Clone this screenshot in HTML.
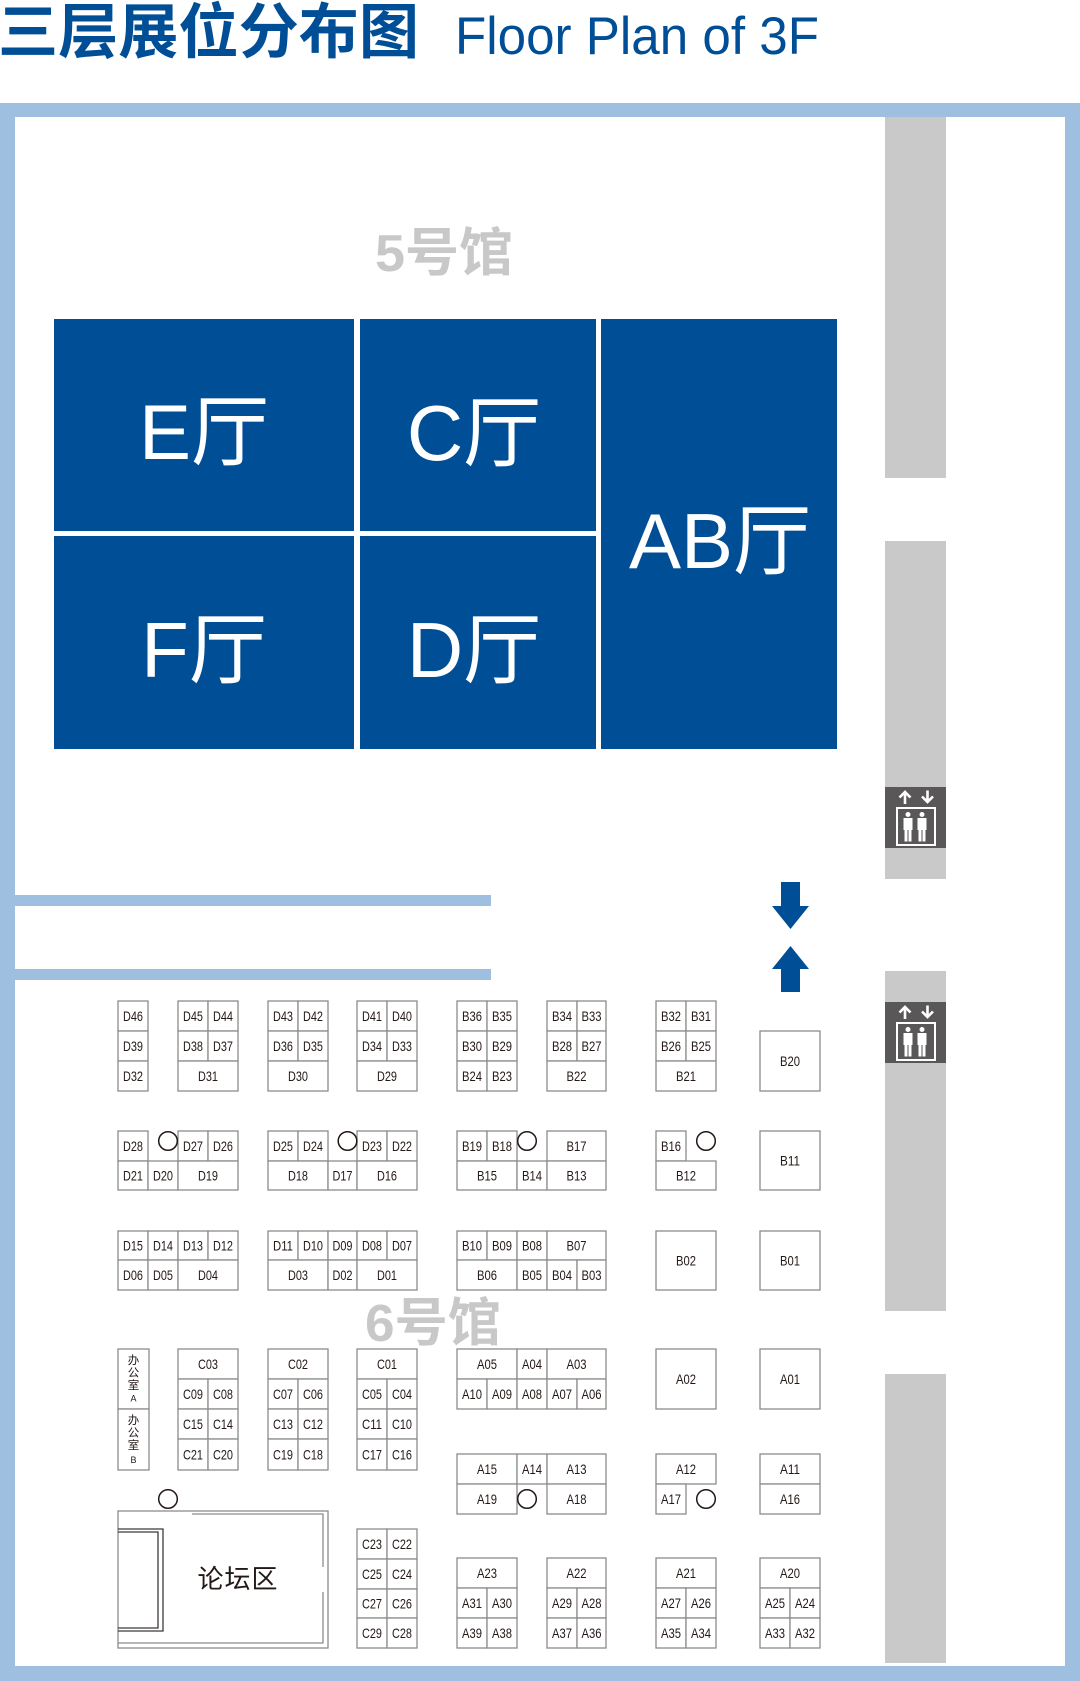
<!DOCTYPE html>
<html><head><meta charset="utf-8">
<style>
html,body{margin:0;padding:0;background:#fff}
svg{display:block}
.r rect{fill:#fff;stroke:#8c8c8c;stroke-width:1.3}
.t text{font-family:"Liberation Sans",sans-serif;font-size:14px;fill:#231815;text-anchor:middle;dominant-baseline:central}
.c circle{fill:none;stroke:#231815;stroke-width:1.5}
.h text{font-family:"Liberation Sans","Noto Sans CJK SC",sans-serif;font-size:78px;fill:#fff;text-anchor:middle}
</style></head>
<body>
<svg width="1080" height="1681" viewBox="0 0 1080 1681" xmlns="http://www.w3.org/2000/svg">
<rect x="0" y="0" width="1080" height="1681" fill="#fff"/>
<!-- Title -->
<text x="-2" y="53" font-family="Liberation Sans, Noto Sans CJK SC, sans-serif" font-weight="bold" font-size="60" fill="#004f96" textLength="421" lengthAdjust="spacingAndGlyphs">三层展位分布图</text>
<text x="455" y="54" font-family="Liberation Sans, sans-serif" font-size="53" fill="#004f96" textLength="364" lengthAdjust="spacingAndGlyphs">Floor Plan of 3F</text>

<!-- Outer border -->
<rect x="0" y="103" width="1080" height="1578" fill="#9fbfe1"/>
<rect x="15" y="117" width="1050" height="1549" fill="#fff"/>

<!-- Gray column -->
<rect x="885" y="117" width="61" height="361" fill="#c9c9c9"/>
<rect x="885" y="541" width="61" height="338" fill="#c9c9c9"/>
<rect x="885" y="971" width="61" height="340" fill="#c9c9c9"/>
<rect x="885" y="1374" width="61" height="289" fill="#c9c9c9"/>

<!-- Elevators -->
<g>
<rect x="885" y="787" width="61" height="61" fill="#595757"/>
<rect x="897" y="808" width="38" height="37" fill="none" stroke="#fff" stroke-width="2"/>
<g fill="#fff">
<circle cx="908" cy="814.5" r="2.5"/>
<rect x="903.5" y="818" width="9" height="12"/>
<rect x="904.5" y="829" width="3" height="12.5"/>
<rect x="908.5" y="829" width="3" height="12.5"/>
<circle cx="922" cy="814.5" r="2.5"/>
<rect x="917.5" y="818" width="9" height="12"/>
<rect x="918.5" y="829" width="3" height="12.5"/>
<rect x="922.5" y="829" width="3" height="12.5"/>
</g>
<path d="M905 804V792M899.5 797.5L905 792L910.5 797.5" stroke="#fff" stroke-width="2.6" fill="none"/>
<path d="M927.5 790.5V802M922 796.5L927.5 802L933 796.5" stroke="#fff" stroke-width="2.6" fill="none"/>
</g>
<g transform="translate(0,215)">
<rect x="885" y="787" width="61" height="61" fill="#595757"/>
<rect x="897" y="808" width="38" height="37" fill="none" stroke="#fff" stroke-width="2"/>
<g fill="#fff">
<circle cx="908" cy="814.5" r="2.5"/>
<rect x="903.5" y="818" width="9" height="12"/>
<rect x="904.5" y="829" width="3" height="12.5"/>
<rect x="908.5" y="829" width="3" height="12.5"/>
<circle cx="922" cy="814.5" r="2.5"/>
<rect x="917.5" y="818" width="9" height="12"/>
<rect x="918.5" y="829" width="3" height="12.5"/>
<rect x="922.5" y="829" width="3" height="12.5"/>
</g>
<path d="M905 804V792M899.5 797.5L905 792L910.5 797.5" stroke="#fff" stroke-width="2.6" fill="none"/>
<path d="M927.5 790.5V802M922 796.5L927.5 802L933 796.5" stroke="#fff" stroke-width="2.6" fill="none"/>
</g>

<!-- Blue bars -->
<rect x="15" y="895" width="476" height="11" fill="#9fbfe1"/>
<rect x="15" y="969" width="476" height="11" fill="#9fbfe1"/>

<!-- Halls -->
<g fill="#004f96">
<rect x="54" y="319" width="300" height="212"/>
<rect x="360" y="319" width="236" height="212"/>
<rect x="54" y="536" width="300" height="213"/>
<rect x="360" y="536" width="236" height="213"/>
<rect x="601" y="319" width="236" height="430"/>
</g>
<g class="h">
<text x="204" y="459">E厅</text>
<text x="474" y="460">C厅</text>
<text x="204" y="677">F厅</text>
<text x="474" y="677">D厅</text>
<text x="720" y="568">AB厅</text>
</g>

<!-- Hall labels -->
<text x="375" y="271" font-family="Liberation Sans, Noto Sans CJK SC, sans-serif" font-weight="bold" font-size="52" fill="#c8c8c8" textLength="138" lengthAdjust="spacingAndGlyphs">5号馆</text>

<!-- Big arrows -->
<g fill="#004f96">
<rect x="781" y="882" width="19" height="25"/>
<polygon points="772,906 809,906 790.5,929"/>
<polygon points="790.5,946 772,969 809,969"/>
<rect x="781" y="968" width="19" height="24"/>
</g>

<!-- Booth rects -->
<g class="r">
<!-- G1 -->
<rect x="118" y="1001" width="30" height="30"/><rect x="118" y="1031" width="30" height="30"/><rect x="118" y="1061" width="30" height="30"/>
<rect x="178" y="1001" width="30" height="30"/><rect x="208" y="1001" width="30" height="30"/><rect x="178" y="1031" width="30" height="30"/><rect x="208" y="1031" width="30" height="30"/><rect x="178" y="1061" width="60" height="30"/>
<rect x="268" y="1001" width="30" height="30"/><rect x="298" y="1001" width="30" height="30"/><rect x="268" y="1031" width="30" height="30"/><rect x="298" y="1031" width="30" height="30"/><rect x="268" y="1061" width="60" height="30"/>
<rect x="357" y="1001" width="30" height="30"/><rect x="387" y="1001" width="30" height="30"/><rect x="357" y="1031" width="30" height="30"/><rect x="387" y="1031" width="30" height="30"/><rect x="357" y="1061" width="60" height="30"/>
<rect x="457" y="1001" width="30" height="30"/><rect x="487" y="1001" width="30" height="30"/><rect x="457" y="1031" width="30" height="30"/><rect x="487" y="1031" width="30" height="30"/><rect x="457" y="1061" width="30" height="30"/><rect x="487" y="1061" width="30" height="30"/>
<rect x="547" y="1001" width="30" height="30"/><rect x="577" y="1001" width="29" height="30"/><rect x="547" y="1031" width="30" height="30"/><rect x="577" y="1031" width="29" height="30"/><rect x="547" y="1061" width="59" height="30"/>
<rect x="656" y="1001" width="30" height="30"/><rect x="686" y="1001" width="30" height="30"/><rect x="656" y="1031" width="30" height="30"/><rect x="686" y="1031" width="30" height="30"/><rect x="656" y="1061" width="60" height="30"/>
<rect x="760" y="1031" width="60" height="60"/>
<!-- G2 -->
<rect x="118" y="1131" width="30" height="30"/><rect x="178" y="1131" width="30" height="30"/><rect x="208" y="1131" width="30" height="30"/>
<rect x="118" y="1161" width="30" height="29"/><rect x="148" y="1161" width="30" height="29"/><rect x="178" y="1161" width="60" height="29"/>
<rect x="268" y="1131" width="30" height="30"/><rect x="298" y="1131" width="30" height="30"/><rect x="357" y="1131" width="30" height="30"/><rect x="387" y="1131" width="30" height="30"/>
<rect x="268" y="1161" width="60" height="29"/><rect x="328" y="1161" width="29" height="29"/><rect x="357" y="1161" width="60" height="29"/>
<rect x="457" y="1131" width="30" height="30"/><rect x="487" y="1131" width="30" height="30"/><rect x="547" y="1131" width="59" height="30"/>
<rect x="457" y="1161" width="60" height="29"/><rect x="517" y="1161" width="30" height="29"/><rect x="547" y="1161" width="59" height="29"/>
<rect x="656" y="1131" width="30" height="30"/><rect x="656" y="1161" width="60" height="29"/>
<rect x="760" y="1131" width="60" height="59"/>
<!-- G3 -->
<rect x="118" y="1231" width="30" height="29"/><rect x="148" y="1231" width="30" height="29"/><rect x="178" y="1231" width="30" height="29"/><rect x="208" y="1231" width="30" height="29"/>
<rect x="118" y="1260" width="30" height="30"/><rect x="148" y="1260" width="30" height="30"/><rect x="178" y="1260" width="60" height="30"/>
<rect x="268" y="1231" width="30" height="29"/><rect x="298" y="1231" width="30" height="29"/><rect x="328" y="1231" width="29" height="29"/><rect x="357" y="1231" width="30" height="29"/><rect x="387" y="1231" width="30" height="29"/>
<rect x="268" y="1260" width="60" height="30"/><rect x="328" y="1260" width="29" height="30"/><rect x="357" y="1260" width="60" height="30"/>
<rect x="457" y="1231" width="30" height="29"/><rect x="487" y="1231" width="30" height="29"/><rect x="517" y="1231" width="30" height="29"/><rect x="547" y="1231" width="59" height="29"/>
<rect x="457" y="1260" width="60" height="30"/><rect x="517" y="1260" width="30" height="30"/><rect x="547" y="1260" width="30" height="30"/><rect x="577" y="1260" width="29" height="30"/>
<rect x="656" y="1231" width="60" height="59"/>
<rect x="760" y="1231" width="60" height="59"/>
<!-- G4 -->
<rect x="118" y="1349" width="31" height="60"/><rect x="118" y="1409" width="31" height="61"/>
<rect x="178" y="1349" width="60" height="30"/><rect x="178" y="1379" width="30" height="30"/><rect x="208" y="1379" width="30" height="30"/><rect x="178" y="1409" width="30" height="30"/><rect x="208" y="1409" width="30" height="30"/><rect x="178" y="1439" width="30" height="31"/><rect x="208" y="1439" width="30" height="31"/>
<rect x="268" y="1349" width="60" height="30"/><rect x="268" y="1379" width="30" height="30"/><rect x="298" y="1379" width="30" height="30"/><rect x="268" y="1409" width="30" height="30"/><rect x="298" y="1409" width="30" height="30"/><rect x="268" y="1439" width="30" height="31"/><rect x="298" y="1439" width="30" height="31"/>
<rect x="357" y="1349" width="60" height="30"/><rect x="357" y="1379" width="30" height="30"/><rect x="387" y="1379" width="30" height="30"/><rect x="357" y="1409" width="30" height="30"/><rect x="387" y="1409" width="30" height="30"/><rect x="357" y="1439" width="30" height="31"/><rect x="387" y="1439" width="30" height="31"/>
<rect x="457" y="1349" width="60" height="30"/><rect x="517" y="1349" width="30" height="30"/><rect x="547" y="1349" width="59" height="30"/>
<rect x="457" y="1379" width="30" height="30"/><rect x="487" y="1379" width="30" height="30"/><rect x="517" y="1379" width="30" height="30"/><rect x="547" y="1379" width="30" height="30"/><rect x="577" y="1379" width="29" height="30"/>
<rect x="656" y="1349" width="60" height="60"/><rect x="760" y="1349" width="60" height="60"/>
<!-- A15 row -->
<rect x="457" y="1454" width="60" height="30"/><rect x="517" y="1454" width="30" height="30"/><rect x="547" y="1454" width="59" height="30"/>
<rect x="457" y="1484" width="60" height="30"/><rect x="547" y="1484" width="59" height="30"/>
<rect x="656" y="1454" width="60" height="30"/><rect x="656" y="1484" width="30" height="30"/>
<rect x="760" y="1454" width="60" height="30"/><rect x="760" y="1484" width="60" height="30"/>
<!-- G5 -->
<rect x="357" y="1529" width="30" height="30"/><rect x="387" y="1529" width="30" height="30"/><rect x="357" y="1559" width="30" height="30"/><rect x="387" y="1559" width="30" height="30"/><rect x="357" y="1589" width="30" height="29"/><rect x="387" y="1589" width="30" height="29"/><rect x="357" y="1618" width="30" height="30"/><rect x="387" y="1618" width="30" height="30"/>
<rect x="457" y="1558" width="60" height="30"/><rect x="457" y="1588" width="30" height="30"/><rect x="487" y="1588" width="30" height="30"/><rect x="457" y="1618" width="30" height="30"/><rect x="487" y="1618" width="30" height="30"/>
<rect x="547" y="1558" width="59" height="30"/><rect x="547" y="1588" width="30" height="30"/><rect x="577" y="1588" width="29" height="30"/><rect x="547" y="1618" width="30" height="30"/><rect x="577" y="1618" width="29" height="30"/>
<rect x="656" y="1558" width="60" height="30"/><rect x="656" y="1588" width="30" height="30"/><rect x="686" y="1588" width="30" height="30"/><rect x="656" y="1618" width="30" height="30"/><rect x="686" y="1618" width="30" height="30"/>
<rect x="760" y="1558" width="60" height="30"/><rect x="760" y="1588" width="30" height="30"/><rect x="790" y="1588" width="30" height="30"/><rect x="760" y="1618" width="30" height="30"/><rect x="790" y="1618" width="30" height="30"/>
<!-- Forum outer -->
<rect x="118" y="1511" width="210" height="137"/>
</g>

<!-- Forum details -->
<g stroke="#8c8c8c" stroke-width="1.3" fill="none">
<path d="M192 1514H323V1567M323 1592V1643H118"/>
</g>
<g fill="none" stroke="#3e3a39" stroke-width="1.3">
<path d="M118 1529H163V1631H118"/>
<path d="M118 1532H158V1628H118"/>
</g>
<text x="238" y="1588" font-family="Liberation Sans, Noto Sans CJK SC, sans-serif" font-size="26" fill="#231815" text-anchor="middle" letter-spacing="1">论坛区</text>

<!-- Office vertical labels -->
<g font-family="Liberation Sans, Noto Sans CJK SC, sans-serif" font-size="11.5" fill="#231815" text-anchor="middle" dominant-baseline="central">
<text x="133.5" y="1361">办</text><text x="133.5" y="1373.5">公</text><text x="133.5" y="1386">室</text><text x="133.5" y="1398.5" font-size="9">A</text>
<text x="133.5" y="1421">办</text><text x="133.5" y="1433.5">公</text><text x="133.5" y="1446">室</text><text x="133.5" y="1460" font-size="9">B</text>
</g>

<!-- Circles -->
<g class="c">
<circle cx="168" cy="1141" r="9.3"/>
<circle cx="347.5" cy="1141" r="9.3"/>
<circle cx="527" cy="1141" r="9.3"/>
<circle cx="706" cy="1141" r="9.3"/>
<circle cx="527" cy="1499" r="9.3"/>
<circle cx="706" cy="1499" r="9.3"/>
<circle cx="168" cy="1499" r="9.3"/>
</g>

<text x="365" y="1341" font-family="Liberation Sans, Noto Sans CJK SC, sans-serif" font-weight="bold" font-size="52" fill="#c8c8c8" textLength="136" lengthAdjust="spacingAndGlyphs">6号馆</text>

<!-- Booth labels -->
<g class="t">
<!-- G1 -->
<text x="133" y="1016" textLength="20" lengthAdjust="spacingAndGlyphs">D46</text>
<text x="133" y="1046" textLength="20" lengthAdjust="spacingAndGlyphs">D39</text>
<text x="133" y="1076" textLength="20" lengthAdjust="spacingAndGlyphs">D32</text>
<text x="193" y="1016" textLength="20" lengthAdjust="spacingAndGlyphs">D45</text>
<text x="223" y="1016" textLength="20" lengthAdjust="spacingAndGlyphs">D44</text>
<text x="193" y="1046" textLength="20" lengthAdjust="spacingAndGlyphs">D38</text>
<text x="223" y="1046" textLength="20" lengthAdjust="spacingAndGlyphs">D37</text>
<text x="208" y="1076" textLength="20" lengthAdjust="spacingAndGlyphs">D31</text>
<text x="283" y="1016" textLength="20" lengthAdjust="spacingAndGlyphs">D43</text>
<text x="313" y="1016" textLength="20" lengthAdjust="spacingAndGlyphs">D42</text>
<text x="283" y="1046" textLength="20" lengthAdjust="spacingAndGlyphs">D36</text>
<text x="313" y="1046" textLength="20" lengthAdjust="spacingAndGlyphs">D35</text>
<text x="298" y="1076" textLength="20" lengthAdjust="spacingAndGlyphs">D30</text>
<text x="372" y="1016" textLength="20" lengthAdjust="spacingAndGlyphs">D41</text>
<text x="402" y="1016" textLength="20" lengthAdjust="spacingAndGlyphs">D40</text>
<text x="372" y="1046" textLength="20" lengthAdjust="spacingAndGlyphs">D34</text>
<text x="402" y="1046" textLength="20" lengthAdjust="spacingAndGlyphs">D33</text>
<text x="387" y="1076" textLength="20" lengthAdjust="spacingAndGlyphs">D29</text>
<text x="472" y="1016" textLength="20" lengthAdjust="spacingAndGlyphs">B36</text>
<text x="502" y="1016" textLength="20" lengthAdjust="spacingAndGlyphs">B35</text>
<text x="472" y="1046" textLength="20" lengthAdjust="spacingAndGlyphs">B30</text>
<text x="502" y="1046" textLength="20" lengthAdjust="spacingAndGlyphs">B29</text>
<text x="472" y="1076" textLength="20" lengthAdjust="spacingAndGlyphs">B24</text>
<text x="502" y="1076" textLength="20" lengthAdjust="spacingAndGlyphs">B23</text>
<text x="562" y="1016" textLength="20" lengthAdjust="spacingAndGlyphs">B34</text>
<text x="591.5" y="1016" textLength="20" lengthAdjust="spacingAndGlyphs">B33</text>
<text x="562" y="1046" textLength="20" lengthAdjust="spacingAndGlyphs">B28</text>
<text x="591.5" y="1046" textLength="20" lengthAdjust="spacingAndGlyphs">B27</text>
<text x="576.5" y="1076" textLength="20" lengthAdjust="spacingAndGlyphs">B22</text>
<text x="671" y="1016" textLength="20" lengthAdjust="spacingAndGlyphs">B32</text>
<text x="701" y="1016" textLength="20" lengthAdjust="spacingAndGlyphs">B31</text>
<text x="671" y="1046" textLength="20" lengthAdjust="spacingAndGlyphs">B26</text>
<text x="701" y="1046" textLength="20" lengthAdjust="spacingAndGlyphs">B25</text>
<text x="686" y="1076" textLength="20" lengthAdjust="spacingAndGlyphs">B21</text>
<text x="790" y="1061" textLength="20" lengthAdjust="spacingAndGlyphs">B20</text>
<!-- G2 -->
<text x="133" y="1146" textLength="20" lengthAdjust="spacingAndGlyphs">D28</text>
<text x="193" y="1146" textLength="20" lengthAdjust="spacingAndGlyphs">D27</text>
<text x="223" y="1146" textLength="20" lengthAdjust="spacingAndGlyphs">D26</text>
<text x="133" y="1175.5" textLength="20" lengthAdjust="spacingAndGlyphs">D21</text>
<text x="163" y="1175.5" textLength="20" lengthAdjust="spacingAndGlyphs">D20</text>
<text x="208" y="1175.5" textLength="20" lengthAdjust="spacingAndGlyphs">D19</text>
<text x="283" y="1146" textLength="20" lengthAdjust="spacingAndGlyphs">D25</text>
<text x="313" y="1146" textLength="20" lengthAdjust="spacingAndGlyphs">D24</text>
<text x="372" y="1146" textLength="20" lengthAdjust="spacingAndGlyphs">D23</text>
<text x="402" y="1146" textLength="20" lengthAdjust="spacingAndGlyphs">D22</text>
<text x="298" y="1175.5" textLength="20" lengthAdjust="spacingAndGlyphs">D18</text>
<text x="342.5" y="1175.5" textLength="20" lengthAdjust="spacingAndGlyphs">D17</text>
<text x="387" y="1175.5" textLength="20" lengthAdjust="spacingAndGlyphs">D16</text>
<text x="472" y="1146" textLength="20" lengthAdjust="spacingAndGlyphs">B19</text>
<text x="502" y="1146" textLength="20" lengthAdjust="spacingAndGlyphs">B18</text>
<text x="576.5" y="1146" textLength="20" lengthAdjust="spacingAndGlyphs">B17</text>
<text x="487" y="1175.5" textLength="20" lengthAdjust="spacingAndGlyphs">B15</text>
<text x="532" y="1175.5" textLength="20" lengthAdjust="spacingAndGlyphs">B14</text>
<text x="576.5" y="1175.5" textLength="20" lengthAdjust="spacingAndGlyphs">B13</text>
<text x="671" y="1146" textLength="20" lengthAdjust="spacingAndGlyphs">B16</text>
<text x="686" y="1175.5" textLength="20" lengthAdjust="spacingAndGlyphs">B12</text>
<text x="790" y="1160.5" textLength="20" lengthAdjust="spacingAndGlyphs">B11</text>
<!-- G3 -->
<text x="133" y="1245.5" textLength="20" lengthAdjust="spacingAndGlyphs">D15</text>
<text x="163" y="1245.5" textLength="20" lengthAdjust="spacingAndGlyphs">D14</text>
<text x="193" y="1245.5" textLength="20" lengthAdjust="spacingAndGlyphs">D13</text>
<text x="223" y="1245.5" textLength="20" lengthAdjust="spacingAndGlyphs">D12</text>
<text x="133" y="1275" textLength="20" lengthAdjust="spacingAndGlyphs">D06</text>
<text x="163" y="1275" textLength="20" lengthAdjust="spacingAndGlyphs">D05</text>
<text x="208" y="1275" textLength="20" lengthAdjust="spacingAndGlyphs">D04</text>
<text x="283" y="1245.5" textLength="20" lengthAdjust="spacingAndGlyphs">D11</text>
<text x="313" y="1245.5" textLength="20" lengthAdjust="spacingAndGlyphs">D10</text>
<text x="342.5" y="1245.5" textLength="20" lengthAdjust="spacingAndGlyphs">D09</text>
<text x="372" y="1245.5" textLength="20" lengthAdjust="spacingAndGlyphs">D08</text>
<text x="402" y="1245.5" textLength="20" lengthAdjust="spacingAndGlyphs">D07</text>
<text x="298" y="1275" textLength="20" lengthAdjust="spacingAndGlyphs">D03</text>
<text x="342.5" y="1275" textLength="20" lengthAdjust="spacingAndGlyphs">D02</text>
<text x="387" y="1275" textLength="20" lengthAdjust="spacingAndGlyphs">D01</text>
<text x="472" y="1245.5" textLength="20" lengthAdjust="spacingAndGlyphs">B10</text>
<text x="502" y="1245.5" textLength="20" lengthAdjust="spacingAndGlyphs">B09</text>
<text x="532" y="1245.5" textLength="20" lengthAdjust="spacingAndGlyphs">B08</text>
<text x="576.5" y="1245.5" textLength="20" lengthAdjust="spacingAndGlyphs">B07</text>
<text x="487" y="1275" textLength="20" lengthAdjust="spacingAndGlyphs">B06</text>
<text x="532" y="1275" textLength="20" lengthAdjust="spacingAndGlyphs">B05</text>
<text x="562" y="1275" textLength="20" lengthAdjust="spacingAndGlyphs">B04</text>
<text x="591.5" y="1275" textLength="20" lengthAdjust="spacingAndGlyphs">B03</text>
<text x="686" y="1260.5" textLength="20" lengthAdjust="spacingAndGlyphs">B02</text>
<text x="790" y="1260.5" textLength="20" lengthAdjust="spacingAndGlyphs">B01</text>
<!-- G4 -->
<text x="208" y="1364" textLength="20" lengthAdjust="spacingAndGlyphs">C03</text>
<text x="193" y="1394" textLength="20" lengthAdjust="spacingAndGlyphs">C09</text>
<text x="223" y="1394" textLength="20" lengthAdjust="spacingAndGlyphs">C08</text>
<text x="193" y="1424" textLength="20" lengthAdjust="spacingAndGlyphs">C15</text>
<text x="223" y="1424" textLength="20" lengthAdjust="spacingAndGlyphs">C14</text>
<text x="193" y="1454.5" textLength="20" lengthAdjust="spacingAndGlyphs">C21</text>
<text x="223" y="1454.5" textLength="20" lengthAdjust="spacingAndGlyphs">C20</text>
<text x="298" y="1364" textLength="20" lengthAdjust="spacingAndGlyphs">C02</text>
<text x="283" y="1394" textLength="20" lengthAdjust="spacingAndGlyphs">C07</text>
<text x="313" y="1394" textLength="20" lengthAdjust="spacingAndGlyphs">C06</text>
<text x="283" y="1424" textLength="20" lengthAdjust="spacingAndGlyphs">C13</text>
<text x="313" y="1424" textLength="20" lengthAdjust="spacingAndGlyphs">C12</text>
<text x="283" y="1454.5" textLength="20" lengthAdjust="spacingAndGlyphs">C19</text>
<text x="313" y="1454.5" textLength="20" lengthAdjust="spacingAndGlyphs">C18</text>
<text x="387" y="1364" textLength="20" lengthAdjust="spacingAndGlyphs">C01</text>
<text x="372" y="1394" textLength="20" lengthAdjust="spacingAndGlyphs">C05</text>
<text x="402" y="1394" textLength="20" lengthAdjust="spacingAndGlyphs">C04</text>
<text x="372" y="1424" textLength="20" lengthAdjust="spacingAndGlyphs">C11</text>
<text x="402" y="1424" textLength="20" lengthAdjust="spacingAndGlyphs">C10</text>
<text x="372" y="1454.5" textLength="20" lengthAdjust="spacingAndGlyphs">C17</text>
<text x="402" y="1454.5" textLength="20" lengthAdjust="spacingAndGlyphs">C16</text>
<text x="487" y="1364" textLength="20" lengthAdjust="spacingAndGlyphs">A05</text>
<text x="532" y="1364" textLength="20" lengthAdjust="spacingAndGlyphs">A04</text>
<text x="576.5" y="1364" textLength="20" lengthAdjust="spacingAndGlyphs">A03</text>
<text x="472" y="1394" textLength="20" lengthAdjust="spacingAndGlyphs">A10</text>
<text x="502" y="1394" textLength="20" lengthAdjust="spacingAndGlyphs">A09</text>
<text x="532" y="1394" textLength="20" lengthAdjust="spacingAndGlyphs">A08</text>
<text x="562" y="1394" textLength="20" lengthAdjust="spacingAndGlyphs">A07</text>
<text x="591.5" y="1394" textLength="20" lengthAdjust="spacingAndGlyphs">A06</text>
<text x="686" y="1379" textLength="20" lengthAdjust="spacingAndGlyphs">A02</text>
<text x="790" y="1379" textLength="20" lengthAdjust="spacingAndGlyphs">A01</text>
<!-- A15 row -->
<text x="487" y="1469" textLength="20" lengthAdjust="spacingAndGlyphs">A15</text>
<text x="532" y="1469" textLength="20" lengthAdjust="spacingAndGlyphs">A14</text>
<text x="576.5" y="1469" textLength="20" lengthAdjust="spacingAndGlyphs">A13</text>
<text x="487" y="1499" textLength="20" lengthAdjust="spacingAndGlyphs">A19</text>
<text x="576.5" y="1499" textLength="20" lengthAdjust="spacingAndGlyphs">A18</text>
<text x="686" y="1469" textLength="20" lengthAdjust="spacingAndGlyphs">A12</text>
<text x="671" y="1499" textLength="20" lengthAdjust="spacingAndGlyphs">A17</text>
<text x="790" y="1469" textLength="20" lengthAdjust="spacingAndGlyphs">A11</text>
<text x="790" y="1499" textLength="20" lengthAdjust="spacingAndGlyphs">A16</text>
<!-- G5 -->
<text x="372" y="1544" textLength="20" lengthAdjust="spacingAndGlyphs">C23</text>
<text x="402" y="1544" textLength="20" lengthAdjust="spacingAndGlyphs">C22</text>
<text x="372" y="1574" textLength="20" lengthAdjust="spacingAndGlyphs">C25</text>
<text x="402" y="1574" textLength="20" lengthAdjust="spacingAndGlyphs">C24</text>
<text x="372" y="1603.5" textLength="20" lengthAdjust="spacingAndGlyphs">C27</text>
<text x="402" y="1603.5" textLength="20" lengthAdjust="spacingAndGlyphs">C26</text>
<text x="372" y="1633" textLength="20" lengthAdjust="spacingAndGlyphs">C29</text>
<text x="402" y="1633" textLength="20" lengthAdjust="spacingAndGlyphs">C28</text>
<text x="487" y="1573" textLength="20" lengthAdjust="spacingAndGlyphs">A23</text>
<text x="472" y="1603" textLength="20" lengthAdjust="spacingAndGlyphs">A31</text>
<text x="502" y="1603" textLength="20" lengthAdjust="spacingAndGlyphs">A30</text>
<text x="472" y="1633" textLength="20" lengthAdjust="spacingAndGlyphs">A39</text>
<text x="502" y="1633" textLength="20" lengthAdjust="spacingAndGlyphs">A38</text>
<text x="576.5" y="1573" textLength="20" lengthAdjust="spacingAndGlyphs">A22</text>
<text x="562" y="1603" textLength="20" lengthAdjust="spacingAndGlyphs">A29</text>
<text x="591.5" y="1603" textLength="20" lengthAdjust="spacingAndGlyphs">A28</text>
<text x="562" y="1633" textLength="20" lengthAdjust="spacingAndGlyphs">A37</text>
<text x="591.5" y="1633" textLength="20" lengthAdjust="spacingAndGlyphs">A36</text>
<text x="686" y="1573" textLength="20" lengthAdjust="spacingAndGlyphs">A21</text>
<text x="671" y="1603" textLength="20" lengthAdjust="spacingAndGlyphs">A27</text>
<text x="701" y="1603" textLength="20" lengthAdjust="spacingAndGlyphs">A26</text>
<text x="671" y="1633" textLength="20" lengthAdjust="spacingAndGlyphs">A35</text>
<text x="701" y="1633" textLength="20" lengthAdjust="spacingAndGlyphs">A34</text>
<text x="790" y="1573" textLength="20" lengthAdjust="spacingAndGlyphs">A20</text>
<text x="775" y="1603" textLength="20" lengthAdjust="spacingAndGlyphs">A25</text>
<text x="805" y="1603" textLength="20" lengthAdjust="spacingAndGlyphs">A24</text>
<text x="775" y="1633" textLength="20" lengthAdjust="spacingAndGlyphs">A33</text>
<text x="805" y="1633" textLength="20" lengthAdjust="spacingAndGlyphs">A32</text>
</g>
</svg>
</body></html>
